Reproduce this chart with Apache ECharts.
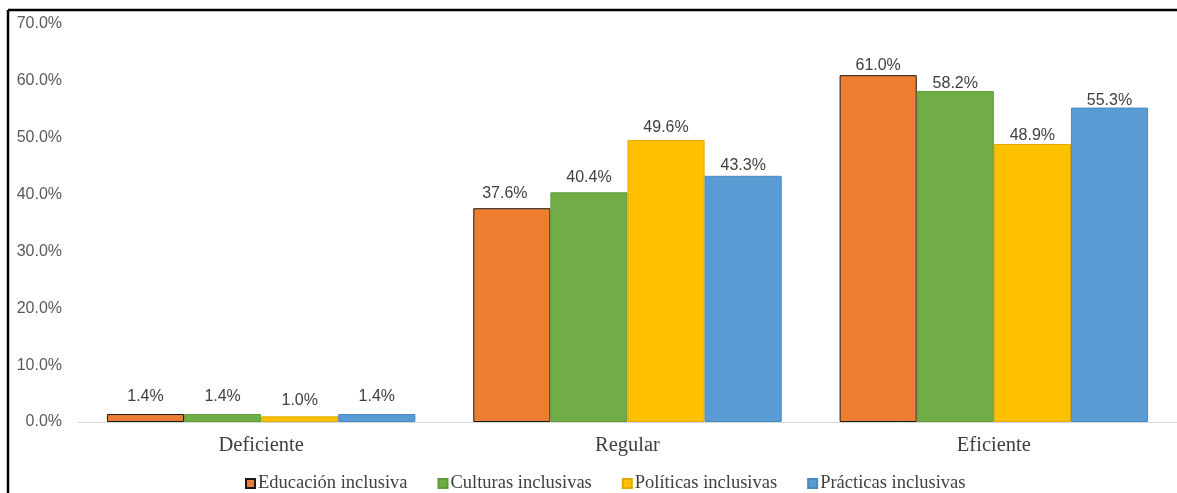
<!DOCTYPE html>
<html>
<head>
<meta charset="utf-8">
<script src="https://cdn.jsdelivr.net/npm/echarts@6/dist/echarts.min.js"></script>
<style>
  html, body { margin: 0; padding: 0; background: #fff; }
  #chart { width: 1177px; height: 493px; }
</style>
</head>
<body>
<div id="chart"></div>
<script>
var categories = ['Deficiente', 'Regular', 'Eficiente'];
var seriesNames = ['Educación inclusiva', 'Culturas inclusivas', 'Políticas inclusivas', 'Prácticas inclusivas'];
var educacion = [1.4, 37.6, 61.0];
var culturas = [1.4, 40.4, 58.2];
var politicas = [1.0, 49.6, 48.9];
var practicas = [1.4, 43.3, 55.3];

var colors = ['#ED7D31', '#70AD47', '#FFC000', '#5B9BD5'];
var borders = ['#1a1a1a', '#5f9a3b', '#e0aa00', '#4a88c2'];
var values = [educacion, culturas, politicas, practicas];
// labels were nudged by hand in the original
var labelNudge = [
    [[0, -2], [-7, 0], [0, 5]],
    [[0, -2], [0, 0], [0, 8]],
    [[0, -1], [0, 3], [0, 7]],
    [[0, -2], [0, 5], [0, 8]]
];

let myChart = echarts.init(document.getElementById('chart'));

var series = seriesNames.map(function (name, i) {
    return {
        name: name,
        type: 'bar',
        data: values[i].map(function (v, j) {
            return { value: v, label: { offset: labelNudge[i][j] } };
        }),
        barGap: '0%',
        barCategoryGap: '15.8%',
        itemStyle: {
            color: colors[i],
            borderColor: borders[i],
            borderWidth: 1
        },
        label: {
            show: true,
            position: 'top',
            distance: 7,
            fontFamily: 'Liberation Sans',
            fontSize: 16,
            color: '#404040',
            formatter: function (p) { return p.value.toFixed(1) + '%'; }
        }
    };
});

let option = {
    animation: false,
    color: colors,
    grid: { left: 78, right: 0, top: 24, bottom: 71 },
    legend: {
        bottom: 0,
        left: 245,
        padding: 0,
        itemWidth: 9,
        itemHeight: 9,
        itemGap: 30,
        icon: 'rect',
        textStyle: { fontFamily: 'Liberation Serif', fontSize: 18.5, color: '#404040', padding: [0, 0, 0, -2] },
        data: seriesNames
    },
    xAxis: {
        type: 'category',
        data: categories,
        axisLine: { lineStyle: { color: '#d9d9d9', width: 1 } },
        axisTick: { show: false },
        axisLabel: { fontFamily: 'Liberation Serif', fontSize: 20.5, color: '#404040', margin: 13 }
    },
    yAxis: {
        type: 'value',
        min: 0,
        max: 70,
        interval: 10,
        splitLine: { show: false },
        axisLine: { show: false },
        axisTick: { show: false },
        axisLabel: {
            fontFamily: 'Liberation Sans',
            fontSize: 16,
            color: '#595959',
            margin: 16,
            formatter: function (v) { return v.toFixed(1) + '%'; }
        }
    },
    graphic: [
        { type: 'line', shape: { x1: 8, y1: 10, x2: 1177, y2: 10 }, style: { stroke: '#000', lineWidth: 2.5 } },
        { type: 'line', shape: { x1: 8, y1: 10, x2: 8, y2: 493 }, style: { stroke: '#000', lineWidth: 2.5 } }
    ],
    series: series
};
myChart.setOption(option);
</script>
</body>
</html>
